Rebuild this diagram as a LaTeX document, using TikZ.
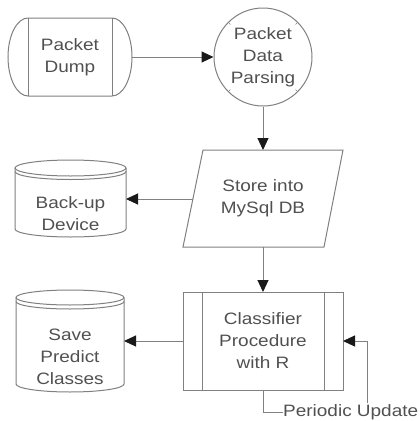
\documentclass[tikz,border=0pt]{standalone}
\usepackage{fontspec}
\setmainfont{Liberation Sans}[FakeStretch=1.15]
\usetikzlibrary{arrows.meta,calc}
\definecolor{ln}{HTML}{808080}
\definecolor{tx}{HTML}{505050}
\definecolor{tip}{HTML}{1A1A1A}
\begin{document}
\begin{tikzpicture}[
  x=1pt,y=1pt,
  lbl/.style={text=tx,font=\fontsize{16.5}{22}\selectfont,align=center,inner sep=0pt},
  shp/.style={draw=ln,line width=1pt},
  conn/.style={draw=ln,line width=1pt,-{Triangle[length=12pt,width=11pt,color=tip]}},
  tick/.style={draw=ln,line width=0.7pt}
]
\useasboundingbox (0,0) rectangle (420,-421);
% Packet Dump
\draw[shp] (28,-18) -- (112,-18) arc[start angle=90,end angle=-90,x radius=20,y radius=39]
  -- (28,-96) arc[start angle=270,end angle=90,x radius=20,y radius=39] -- cycle;
\draw[shp] (28,-18) -- (28,-96) (112,-18) -- (112,-96);
\node[lbl] (dump) at (70,-57) {Packet\\Dump};
\coordinate (dumpE) at (132,-57);
% Packet Data Parsing
\node[shp,circle,minimum size=98pt,inner sep=0pt] (parse) at (263,-57) {};
\node[lbl] (parsetxt) at (263,-57) {Packet\\Data\\Parsing};
\foreach \a in {45,135,225,315}
  \draw[tick] (parse.\a) -- ($(parse.\a)+(\a+180:3.5pt)$);
% Store into MySql DB
\draw[shp] (203,-150) -- (343,-150) -- (324,-247) -- (183,-247) -- cycle;
\node[lbl] (store) at (263,-198) {Store into\\MySql DB};
\coordinate (storeN) at (263,-150);
\coordinate (storeS) at (263,-247);
\coordinate (storeW) at (193,-199);
% Back-up Device
\draw[shp] (15,-168) -- (15,-229) arc[start angle=180,end angle=360,x radius=55.5,y radius=8] -- (126,-168);
\draw[shp] (70.5,-168) ellipse[x radius=55.5,y radius=8];
\draw[shp] (15,-171.5) arc[start angle=180,end angle=360,x radius=55.5,y radius=8];
\node[lbl] (backup) at (70.5,-214) {Back-up\\Device};
\coordinate (backupE) at (126,-199);
% Classifier
\draw[shp] (183,-292) rectangle (343,-390);
\draw[shp] (202,-292) -- (202,-390) (324,-292) -- (324,-390);
\node[lbl] (class) at (263,-341) {Classifier\\Procedure\\with R};
\coordinate (classN) at (263,-292);
\coordinate (classS) at (263,-390);
\coordinate (classW) at (183,-341);
\coordinate (classE) at (343,-341);
% Save Predict Classes
\draw[shp] (16,-297.5) -- (16,-384) arc[start angle=180,end angle=360,x radius=54,y radius=8] -- (124,-297.5);
\draw[shp] (70,-297.5) ellipse[x radius=54,y radius=7.5];
\draw[shp] (16,-301.5) arc[start angle=180,end angle=360,x radius=54,y radius=7.5];
\node[lbl] (save) at (70,-357) {Save\\Predict\\Classes};
\coordinate (saveE) at (124,-341);
% Periodic Update
\node[lbl,anchor=west] (per) at (283,-412) {Periodic Update};
\coordinate (fb) at (367,-403);
% connectors
\draw[conn] (dumpE) -- (parse.west);
\draw[conn] (parse.south) -- (storeN);
\draw[conn] (storeW) -- (backupE);
\draw[conn] (storeS) -- (classN);
\draw[conn] (classW) -- (saveE);
\draw[conn] (fb) |- (classE);
\draw[shp] (classS) |- (per.west);
\end{tikzpicture}
\end{document}
